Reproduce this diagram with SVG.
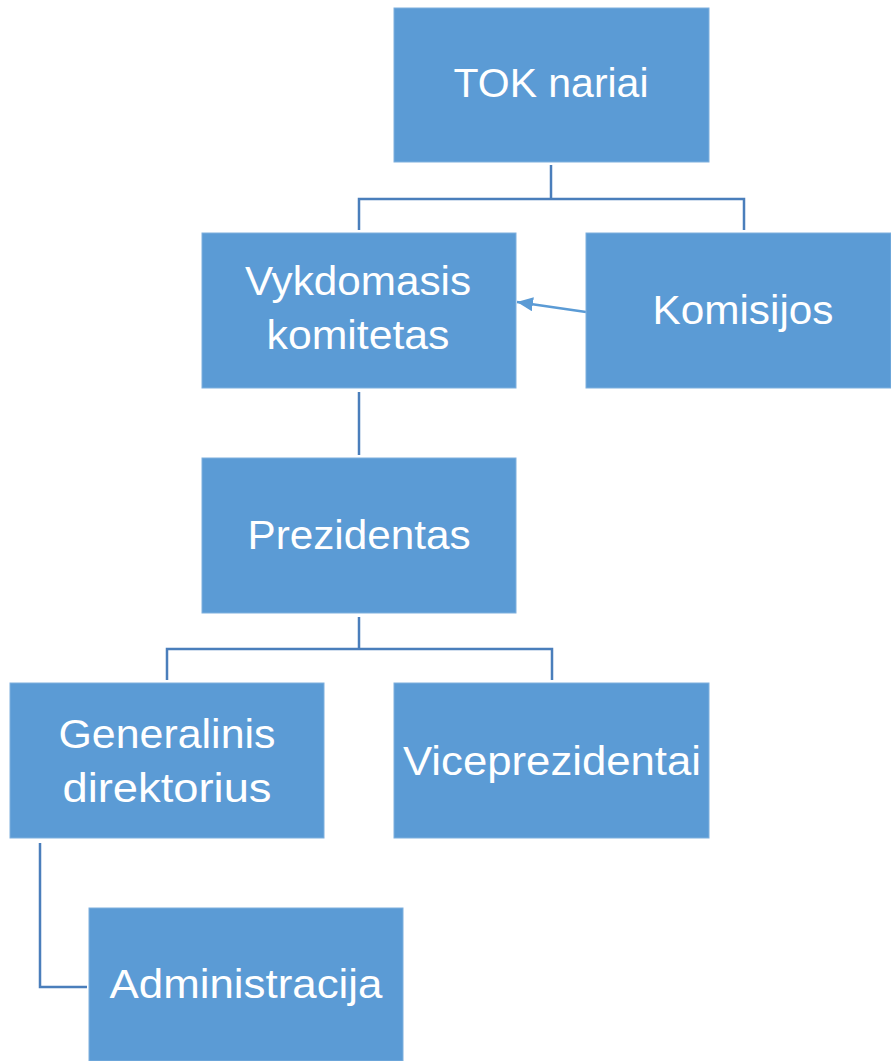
<svg xmlns="http://www.w3.org/2000/svg" width="891" height="1061" viewBox="0 0 891 1061">
<style>
.box{fill:#5B9BD5;stroke:#7FB0DE;stroke-width:1}
.t{font-family:"Liberation Sans",Arial,sans-serif;font-size:41px;fill:#ffffff;text-anchor:middle}
.c{fill:none;stroke:#4A7EBB;stroke-width:2.5}
.a{fill:none;stroke:#5B9BD5;stroke-width:2.5}
</style>
<defs>
<marker id="ah" markerWidth="16" markerHeight="14" refX="16" refY="7" orient="auto" markerUnits="userSpaceOnUse" viewBox="0 0 16 14">
<path d="M0,0 L16,7 L0,14 z" fill="#5B9BD5"/>
</marker>
</defs>
<g id="connectors">
<polyline class="c" points="551,165 551,199"/>
<polyline class="c" points="359,230 359,199 744,199 744,230"/>
<polyline class="c" points="359,392 359,455"/>
<polyline class="c" points="359,617 359,649"/>
<polyline class="c" points="167,680 167,649 552,649 552,680"/>
<polyline class="c" points="40,843 40,987 87,987"/>
<line class="a" x1="586" y1="312" x2="517" y2="302" marker-end="url(#ah)"/>
</g>
<g id="tok"><rect class="box" x="394" y="8" width="315" height="154"/><text class="t" x="551" y="97" textLength="195" lengthAdjust="spacingAndGlyphs">TOK nariai</text></g>
<g id="vykdomasis"><rect class="box" x="202" y="233" width="314" height="155"/><text class="t" x="358" y="295" textLength="226" lengthAdjust="spacingAndGlyphs">Vykdomasis</text><text class="t" x="358" y="349" textLength="183" lengthAdjust="spacingAndGlyphs">komitetas</text></g>
<g id="komisijos"><rect class="box" x="586" y="233" width="305" height="155"/><text class="t" x="743" y="324" textLength="181" lengthAdjust="spacingAndGlyphs">Komisijos</text></g>
<g id="prezidentas"><rect class="box" x="202" y="458" width="314" height="155"/><text class="t" x="359" y="549" textLength="223" lengthAdjust="spacingAndGlyphs">Prezidentas</text></g>
<g id="generalinis"><rect class="box" x="10" y="683" width="314" height="155"/><text class="t" x="167" y="748" textLength="217" lengthAdjust="spacingAndGlyphs">Generalinis</text><text class="t" x="167" y="802" textLength="209" lengthAdjust="spacingAndGlyphs">direktorius</text></g>
<g id="viceprezidentai"><rect class="box" x="394" y="683" width="315" height="155"/><text class="t" x="552" y="775" textLength="298" lengthAdjust="spacingAndGlyphs">Viceprezidentai</text></g>
<g id="administracija"><rect class="box" x="89" y="908" width="314" height="153"/><text class="t" x="246" y="998" textLength="273" lengthAdjust="spacingAndGlyphs">Administracija</text></g>
</svg>
